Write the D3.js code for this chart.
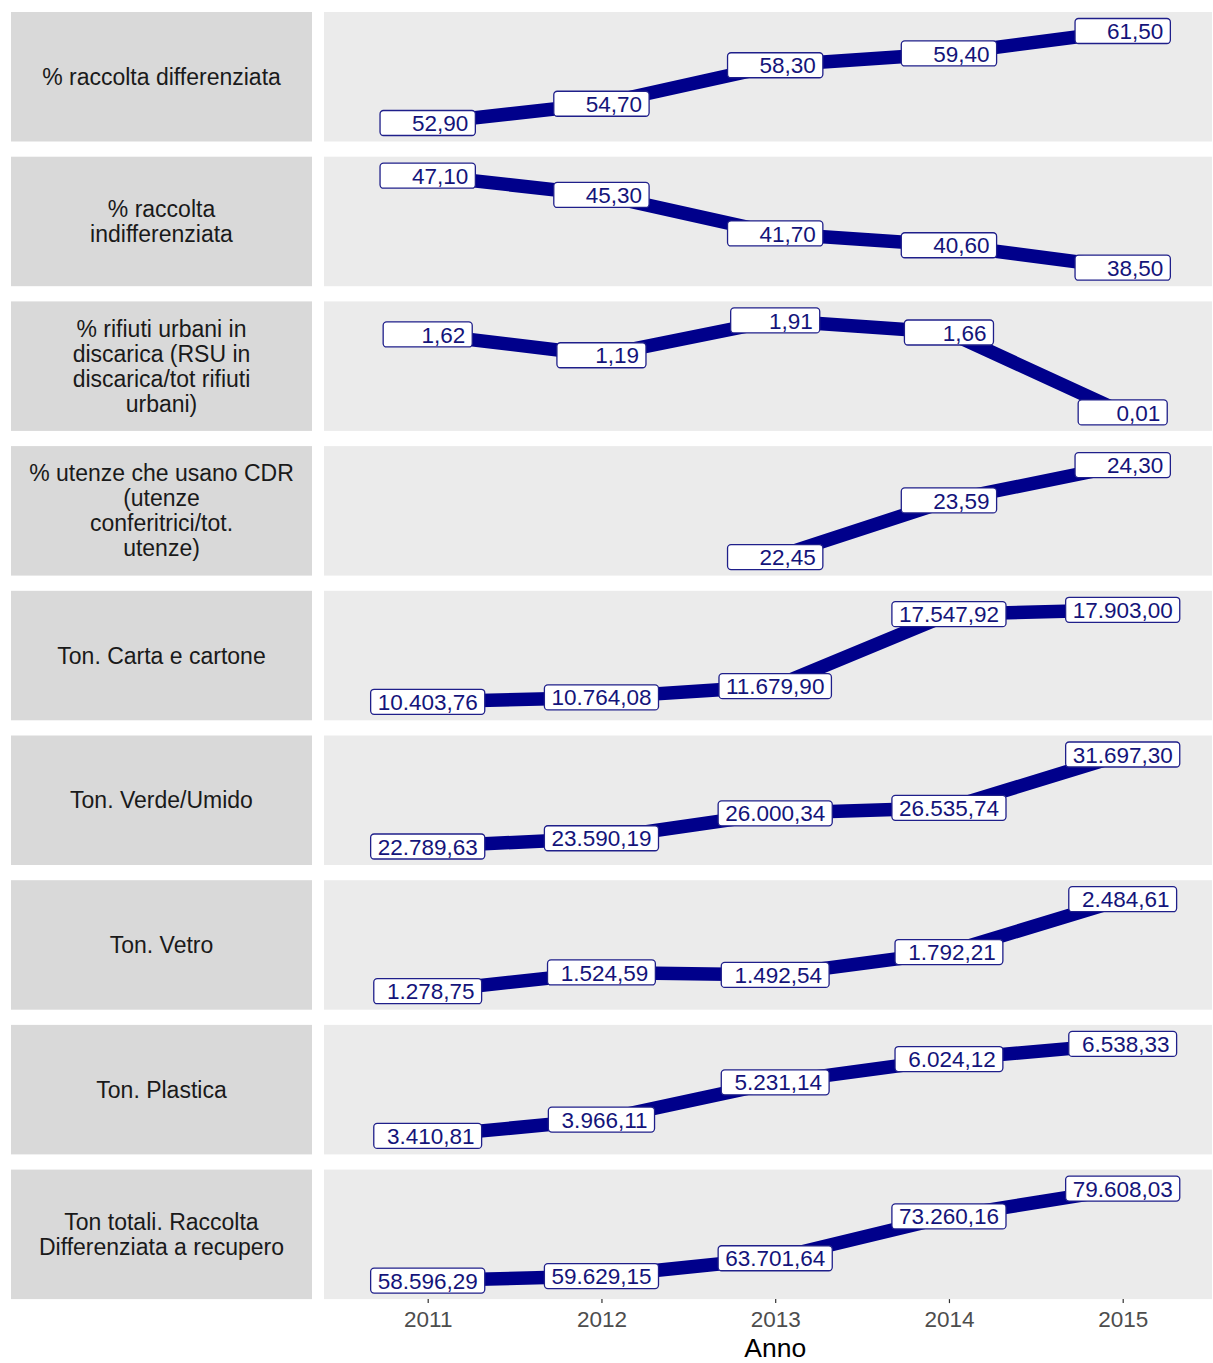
<!DOCTYPE html>
<html><head><meta charset="utf-8">
<script src="https://cdn.jsdelivr.net/npm/d3@7"></script>
<style>
html,body{margin:0;padding:0;background:#fff;}
svg{display:block;font-family:"Liberation Sans",Arial,sans-serif;}
</style></head>
<body>
<svg id="chart" width="1213" height="1363"></svg>
<script>
const years = [2011, 2012, 2013, 2014, 2015];
const facetLabels = [
  ["% raccolta differenziata"],
  ["% raccolta", "indifferenziata"],
  ["% rifiuti urbani in", "discarica (RSU in", "discarica/tot rifiuti", "urbani)"],
  ["% utenze che usano CDR", "(utenze", "conferitrici/tot.", "utenze)"],
  ["Ton. Carta e cartone"],
  ["Ton. Verde/Umido"],
  ["Ton. Vetro"],
  ["Ton. Plastica"],
  ["Ton totali. Raccolta", "Differenziata a recupero"]
];
const pctDifferenziata   = [52.90, 54.70, 58.30, 59.40, 61.50];
const pctIndifferenziata = [47.10, 45.30, 41.70, 40.60, 38.50];
const pctDiscarica       = [1.62, 1.19, 1.91, 1.66, 0.01];
const pctCDR             = [null, null, 22.45, 23.59, 24.30];
const tonCarta           = [10403.76, 10764.08, 11679.90, 17547.92, 17903.00];
const tonVerde           = [22789.63, 23590.19, 26000.34, 26535.74, 31697.30];
const tonVetro           = [1278.75, 1524.59, 1492.54, 1792.21, 2484.61];
const tonPlastica        = [3410.81, 3966.11, 5231.14, 6024.12, 6538.33];
const tonTotali          = [58596.29, 59629.15, 63701.64, 73260.16, 79608.03];
const xTitle = "Anno";

const series = [pctDifferenziata, pctIndifferenziata, pctDiscarica, pctCDR,
                tonCarta, tonVerde, tonVetro, tonPlastica, tonTotali];

const svg = d3.select("#chart");
const stripX0 = 11, stripX1 = 312, panelX0 = 324, panelX1 = 1212;
const top0 = 12, panelH = 129.5, gap = 15.2;
const fs = 22.5;

const it = d3.formatLocale({decimal: ",", thousands: ".", grouping: [3], currency: ["", ""]});
const fmt = it.format(",.2f");

const x = d3.scaleLinear().domain([2011, 2015]).range([427.7, 1122.7]);
const navy = "#00008B";

series.forEach((vals, i) => {
  const y0 = top0 + i * (panelH + gap), y1 = y0 + panelH;
  svg.append("rect").attr("x", stripX0).attr("y", y0).attr("width", stripX1 - stripX0)
     .attr("height", panelH).attr("fill", "#d9d9d9");
  svg.append("rect").attr("x", panelX0).attr("y", y0).attr("width", panelX1 - panelX0)
     .attr("height", panelH).attr("fill", "#ebebeb");
  const lines = facetLabels[i];
  const lh = 25;
  const cy = (y0 + y1) / 2;
  svg.append("text").attr("x", (stripX0 + stripX1) / 2).attr("text-anchor", "middle")
     .attr("font-size", 23).attr("fill", "#1a1a1a")
     .selectAll("tspan").data(lines).join("tspan")
     .attr("x", (stripX0 + stripX1) / 2)
     .attr("y", (d, k) => cy + (k - (lines.length - 1) / 2) * lh + 8)
     .text(d => d);

  const pts = years.map((yr, k) => ({yr, v: vals[k]})).filter(d => d.v != null);
  const ext = d3.extent(pts, d => d.v);
  const y = d3.scaleLinear().domain(ext).range([y1 - 18.5, y0 + 19]);
  const g = svg.append("g");
  g.append("path").datum(pts)
   .attr("d", d3.line().x(d => x(d.yr)).y(d => y(d.v)))
   .attr("fill", "none").attr("stroke", navy).attr("stroke-width", 13.5)
   .attr("stroke-linejoin", "round");
  const lab = g.selectAll("g.lab").data(pts).join("g").attr("class", "lab");
  const rects = lab.append("rect");
  const texts = lab.append("text")
     .attr("xml:space", "preserve").style("white-space", "pre")
     .attr("x", d => x(d.yr)).attr("y", d => y(d.v) + fs * 0.36)
     .attr("text-anchor", "middle").attr("font-size", fs).attr("fill", "#14147a")
     .text(d => fmt(d.v).padStart(9, " "));
  texts.each(function(d) { d.w = this.getComputedTextLength(); });
  const padX = 7, bh = 25;
  rects.attr("x", d => x(d.yr) - d.w / 2 - padX).attr("y", d => y(d.v) - bh / 2)
       .attr("width", d => d.w + 2 * padX).attr("height", bh)
       .attr("rx", 3.5).attr("ry", 3.5)
       .attr("fill", "#fff").attr("stroke", "#1f1f8a").attr("stroke-width", 1.3);

  if (i === series.length - 1) {
    const ax = svg.append("g").attr("transform", `translate(0,${y1})`)
      .call(d3.axisBottom(x).tickValues(years).tickFormat(d3.format("d")).tickSize(4).tickPadding(8));
    ax.select(".domain").remove();
    ax.selectAll(".tick line").attr("stroke", "#333").attr("stroke-width", 1.2);
    ax.selectAll(".tick text").attr("fill", "#4d4d4d").attr("font-size", 22.5)
      .attr("font-family", "\"Liberation Sans\",Arial,sans-serif");
    svg.append("text").attr("x", x(2013)).attr("y", 1357)
       .attr("text-anchor", "middle").attr("font-size", 26.5).attr("fill", "#000").text(xTitle);
  }
});
</script>
</body></html>
